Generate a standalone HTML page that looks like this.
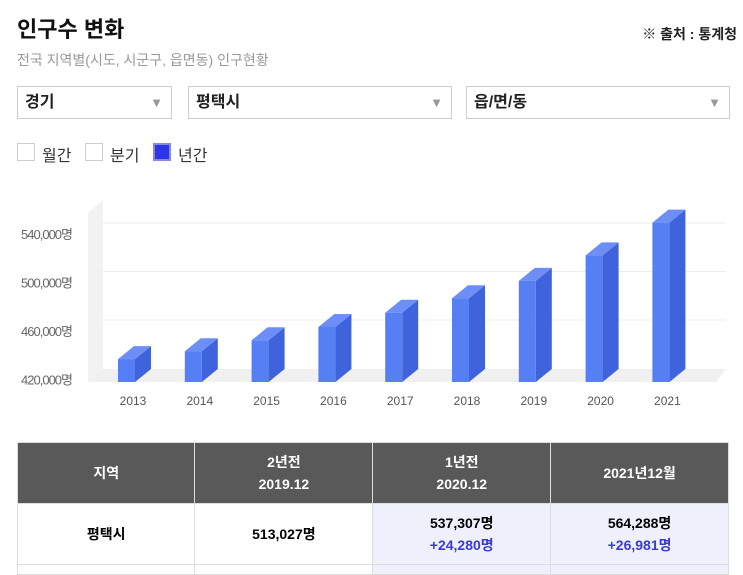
<!DOCTYPE html>
<html><head><meta charset="utf-8"><style>
body{margin:0;width:743px;height:569px;overflow:hidden;background:#fff;font-family:"Liberation Sans","Noto Sans CJK KR",sans-serif;position:relative}
.a{position:absolute}
.sel{position:absolute;top:86px;height:33px;border:1px solid #ccc;box-sizing:border-box;font-size:16px;font-weight:bold;color:#222;line-height:31px;padding-left:7px}
.sel span{position:absolute;right:8px;top:0;color:#999;font-size:13px}
.cb{position:absolute;top:143px;width:18px;height:18px;border:1px solid #ccc;box-sizing:border-box}
.cl{position:absolute;top:142px;font-size:16px;color:#333}
table{position:absolute;left:17px;top:442px;width:712px;border-collapse:collapse;font-size:14px;font-weight:bold;text-align:center}
td{border:1px solid #ddd;width:178px;padding:0}
th{background:#595959;color:#fff;height:60px;border:1px solid #ddd;line-height:22px;padding:0}
.b{color:#3a3ad0}
</style></head><body>
<div class="a" style="left:17px;top:12px;font-size:22px;font-weight:bold;color:#111">인구수 변화</div>
<div class="a" style="right:6px;top:24px;font-size:14px;font-weight:bold;color:#222">※ 출처 : 통계청</div>
<div class="a" style="left:17px;top:50px;font-size:14px;color:#999">전국 지역별(시도, 시군구, 읍면동) 인구현황</div>
<div class="sel" style="left:17px;width:155px">경기<span>▼</span></div>
<div class="sel" style="left:188px;width:264px">평택시<span>▼</span></div>
<div class="sel" style="left:466px;width:264px">읍/면/동<span>▼</span></div>
<div class="cb" style="left:17px"></div><div class="cl" style="left:42px">월간</div>
<div class="cb" style="left:85px"></div><div class="cl" style="left:110px">분기</div>
<div class="cb" style="left:153px;border:2px solid #8888dd;background:#2d35e8"></div><div class="cl" style="left:178px">년간</div>
<svg class="a" style="left:0;top:0" width="743" height="430">
<g id="chart"></g></svg>
<table>
<tr><th>지역</th><th>2년전<br>2019.12</th><th>1년전<br>2020.12</th><th>2021년12월</th></tr>
<tr style="height:61px"><td>평택시</td><td>513,027명</td><td style="background:#eef0fc;line-height:22px">537,307명<br><span class="b">+24,280명</span></td><td style="background:#eef0fc;line-height:22px">564,288명<br><span class="b">+26,981명</span></td></tr>
<tr style="height:10px"><td></td><td></td><td style="background:#eef0fc"></td><td style="background:#eef0fc"></td></tr>
</table>
<script>
const years=["2013","2014","2015","2016","2017","2018","2019","2020","2021"];
const values=[438500,445000,454000,465000,476700,488700,503000,524000,551000];
const ticks=[420000,460000,500000,540000];
const tickLabels=["420,000명","460,000명","500,000명","540,000명"];
const NS="http://www.w3.org/2000/svg";
const g=document.getElementById('chart');
const dx=16,dy=13,floorY=382;
function yBack(v){return 368.5-(v-420000)*48.5/40000;}
function xFront(i){return 118+i*66.8;}
function mk(t,a){const e=document.createElementNS(NS,t);for(const k in a)e.setAttribute(k,a[k]);g.appendChild(e);return e;}
let w=mk('polygon',{points:`88,${floorY} 103,369 103,200 88,213`,fill:'#f2f2f2'});

let f=mk('polygon',{points:`88,${floorY} 103,369 726,369 716,${floorY}`,fill:'#f0f0f0'});

ticks.forEach((t,i)=>{
 if(i>0){const l=mk('line',{x1:103,x2:726,y1:yBack(t),y2:yBack(t),stroke:'#ececec'});
 }
 const tx=mk('text',{x:72,y:yBack(t)+16,'text-anchor':'end','font-size':13,fill:'#666','letter-spacing':'-1'});
 tx.textContent=tickLabels[i];
 
});
years.forEach((y,i)=>{
 const x=xFront(i),bw=17,top=yBack(values[i])+dy;
 const s=mk('polygon',{points:`${x+bw},${top} ${x+bw+dx},${top-dy} ${x+bw+dx},${floorY-dy} ${x+bw},${floorY}`,fill:'#3f63dc'});
 
 const tp=mk('polygon',{points:`${x},${top} ${x+dx},${top-dy} ${x+bw+dx},${top-dy} ${x+bw},${top}`,fill:'#6d8ff5'});
 
 const r=mk('rect',{x:x,y:top,width:bw,height:floorY-top,fill:'#557ff3'});
 
 const tx=mk('text',{x:x+15,y:405,'text-anchor':'middle','font-size':12,fill:'#555'});
 tx.textContent=y;
 
});
</script>
</body></html>
